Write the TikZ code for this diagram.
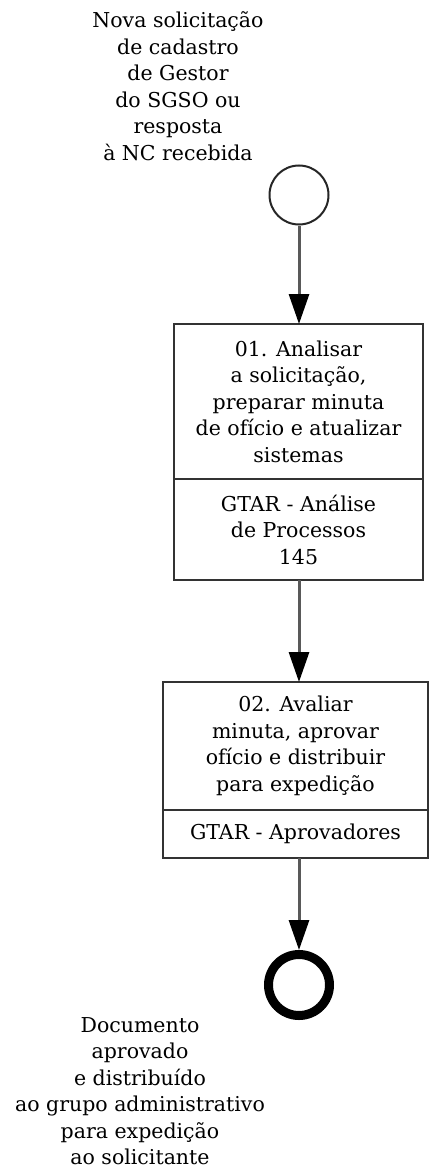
\documentclass[tikz,border=0pt]{standalone}
\usepackage{fontspec}
\setmainfont{DejaVu Serif}
\usetikzlibrary{positioning,arrows.meta}
\tikzset{
    texte/.style={align=center,font=\fontsize{20.5}{26.5}\selectfont},
    debut/.style={circle,draw=black!85,line width=2pt,minimum size=59pt,inner sep=0pt},
    fin/.style={circle,draw=black,line width=9pt,minimum size=61pt,inner sep=0pt},
    tache/.style={texte,rectangle,draw=black!80,line width=2.5pt,outer sep=0pt,inner sep=0pt},
    fleche/.style={draw=black!65,line width=3pt,-{Triangle[width=20pt,length=30pt,color=black]}},
  }
\begin{document}
\begin{tikzpicture}[x=1pt,y=-1pt]
          %cadre
          \useasboundingbox (0,0) rectangle (429,1169);
          %evenements debut et fin
          \node[debut] (D) at (299,195) {};
          \node[fin] (F) at (299,985) {};
          \node[texte] (lD) at (178,86) {Nova solicitação\\de cadastro\\de Gestor\\do SGSO ou\\resposta\\à NC recebida};
          \node[texte] (lF) at (140,1091) {Documento\\aprovado\\e distribuído\\ao grupo administrativo\\para expedição\\ao solicitante};
          %taches
          \node[tache,minimum width=249pt,minimum height=155pt] (T1) at (298.5,401.5) {01. Analisar\\a solicitação,\\preparar minuta\\de ofício e atualizar\\sistemas};
          \node[tache,minimum width=249pt,minimum height=101pt,below=0pt of T1] (R1) {GTAR - Análise\\de Processos\\145};
          \node[tache,minimum width=265pt,minimum height=128pt] (T2) at (295.5,746) {02. Avaliar\\minuta, aprovar\\ofício e distribuir\\para expedição};
          \node[tache,minimum width=265pt,minimum height=48pt,below=0pt of T2] (R2) {GTAR - Aprovadores};
          %fleches
          \draw[fleche] (D.south) -- (T1.north -| D);
          \draw[fleche] (R1.south -| D) -- (T2.north -| D);
          \draw[fleche] (R2.south -| F) -- (F.north);
\end{tikzpicture}
\end{document}
